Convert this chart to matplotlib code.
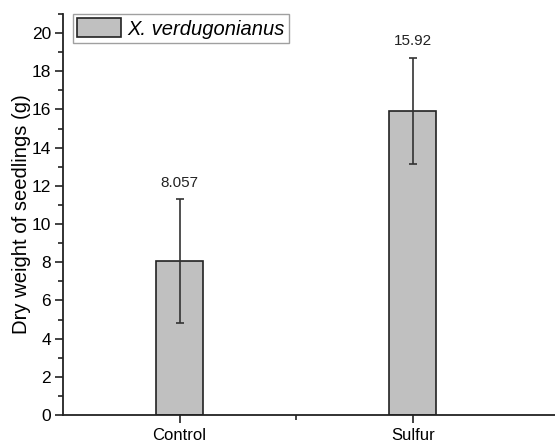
import matplotlib
matplotlib.use("Agg")
import matplotlib.pyplot as plt
from matplotlib.ticker import MultipleLocator, FixedLocator

categories = ["Control", "Sulfur"]
means = [8.057, 15.92]
errors = [3.25, 2.8]
value_labels = ["8.057", "15.92"]
series_name = "X. verdugonianus"

plt.rcParams['font.family'] = ['Liberation Sans', 'DejaVu Sans']

fig = plt.figure(figsize=(5.55, 4.42), dpi=100)
ax = fig.add_axes([63/555, 27/442, 1 - 63/555, (415-14)/442])

x = [1, 2]
ax.bar(x, means, width=0.2, color='#c0c0c0', edgecolor='#222222', linewidth=1.2,
       label=series_name, zorder=2)
ax.errorbar(x, means, yerr=errors, fmt='none', ecolor='#333333', elinewidth=1.2,
            capsize=3.2, capthick=1.2, zorder=3)
for xi, m, e, lab in zip(x, means, errors, value_labels):
    ax.text(xi, m + e + 0.5, lab, ha='center', va='bottom', fontsize=11, color='#222222')

ax.set_xlim(0.5, 2.61)
ax.set_ylim(0, 21)
ax.set_xticks(x)
ax.set_xticklabels(categories, fontsize=12)
ax.xaxis.set_minor_locator(FixedLocator([1.5]))
ax.yaxis.set_major_locator(MultipleLocator(2))
ax.yaxis.set_minor_locator(MultipleLocator(1))
ax.tick_params(axis='y', labelsize=12.5, pad=2.5)
ax.tick_params(axis='x', pad=3)
ax.tick_params(which='both', direction='out', width=1.2, color='#222222')
ax.tick_params(which='major', length=6)
ax.tick_params(which='minor', length=3.5)
ax.spines['top'].set_visible(False)
ax.spines['right'].set_visible(False)
for s in ['left', 'bottom']:
    ax.spines[s].set_linewidth(1.3)
    ax.spines[s].set_color('#222222')
ax.set_ylabel("Dry weight of seedlings (g)", fontsize=14.6, labelpad=0.5)

leg = ax.legend(loc='upper left', bbox_to_anchor=(10/492, 1.0), prop={'size': 14.5, 'style': 'italic'},
                frameon=True, fancybox=False, handlelength=2.2, handleheight=1.1,
                handletextpad=0.3, borderpad=0.2, borderaxespad=0.0)
leg.get_frame().set_edgecolor('#888888')
leg.get_frame().set_linewidth(1.0)

fig.savefig("out.png", dpi=100)
